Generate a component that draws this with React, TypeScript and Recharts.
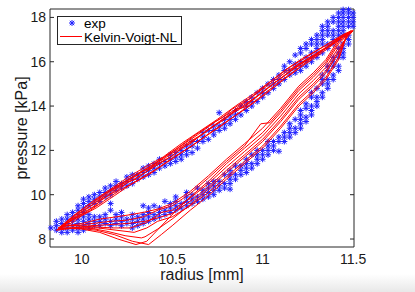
import { ScatterChart, Scatter, XAxis, YAxis, Legend } from "recharts";

const radiusTicks = [10, 10.5, 11, 11.5];
const pressureTicks = [8, 10, 12, 14, 16, 18];
const radiusDomain = [9.825, 11.505];
const pressureDomain = [7.64, 18.38];

// measured points: radius column -> pressures read in that column
const expColumns: [number, number[]][] = [
  [9.83, [8.5]],
  [9.86, [8.4, 8.6, 8.8]],
  [9.89, [8.3, 8.5, 8.7, 8.9]],
  [9.92, [8.3, 8.5, 8.7, 8.9, 9.1]],
  [9.95, [8.4, 8.6, 8.8, 9.0, 9.2]],
  [9.98, [8.3, 8.5, 8.7, 8.9, 9.1, 9.3, 9.5]],
  [10.01, [8.4, 8.6, 8.8, 9.0, 9.2, 9.4, 9.6, 9.8]],
  [10.04, [8.5, 8.7, 8.9, 9.1, 9.5, 9.7, 9.9]],
  [10.07, [8.6, 8.8, 9.0, 9.6, 9.8, 10.0]],
  [10.1, [8.6, 8.8, 9.0, 9.7, 9.9, 10.1]],
  [10.13, [8.7, 8.9, 9.1, 9.9, 10.1, 10.3]],
  [10.16, [8.6, 8.8, 9.3, 9.6, 10.0, 10.2, 10.4]],
  [10.19, [8.7, 8.9, 9.1, 10.2, 10.4, 10.6]],
  [10.22, [8.6, 8.8, 9.0, 9.2, 10.3, 10.5]],
  [10.25, [8.7, 8.9, 10.4, 10.6, 10.8]],
  [10.28, [8.5, 8.7, 8.9, 9.1, 10.5, 10.7, 10.9]],
  [10.31, [8.6, 8.8, 9.0, 10.7, 10.9]],
  [10.34, [8.7, 8.9, 9.1, 9.5, 10.8, 11.0, 11.2]],
  [10.37, [8.8, 9.0, 9.2, 9.4, 10.9, 11.1, 11.3]],
  [10.4, [8.9, 9.1, 9.5, 11.0, 11.2, 11.4]],
  [10.43, [9.0, 9.2, 9.4, 11.2, 11.4, 11.6]],
  [10.46, [9.1, 9.3, 9.7, 11.3, 11.5]],
  [10.49, [9.2, 9.4, 9.6, 11.4, 11.6, 11.8]],
  [10.52, [9.3, 9.5, 9.7, 9.9, 11.5, 11.7, 11.9]],
  [10.55, [9.4, 9.6, 11.6, 11.8, 12.0]],
  [10.58, [9.5, 9.7, 9.9, 10.1, 11.8, 12.0, 12.2]],
  [10.61, [9.6, 9.8, 10.0, 11.9, 12.2, 12.4]],
  [10.64, [9.7, 9.9, 10.3, 12.1, 12.4]],
  [10.67, [9.8, 10.0, 10.2, 12.4, 12.6, 12.8]],
  [10.7, [9.9, 10.1, 10.3, 10.5, 12.5, 12.9]],
  [10.73, [10.0, 10.2, 10.4, 10.6, 12.7, 12.9, 13.1]],
  [10.76, [10.2, 10.4, 10.6, 12.9, 13.1, 13.7]],
  [10.79, [10.3, 10.5, 10.9, 13.0, 13.2, 13.4]],
  [10.82, [10.25, 10.5, 10.7, 10.9, 11.1, 13.2, 13.4, 13.6]],
  [10.85, [10.7, 10.9, 11.3, 13.4, 13.6, 13.8]],
  [10.88, [10.9, 11.1, 11.3, 13.6, 14.0]],
  [10.91, [11.0, 11.2, 11.4, 11.6, 13.8, 14.0, 14.2]],
  [10.94, [11.2, 11.4, 11.8, 14.0, 14.2, 14.4]],
  [10.97, [11.4, 11.6, 11.8, 12.0, 14.2, 14.6]],
  [11.0, [11.6, 11.8, 12.0, 14.4, 14.6, 14.8]],
  [11.03, [11.8, 12.0, 12.2, 12.4, 14.6, 15.0]],
  [11.06, [12.0, 12.2, 12.4, 14.8, 15.0, 15.2]],
  [11.09, [11.96, 12.4, 12.6, 15.0, 15.2, 15.4]],
  [11.12, [12.4, 12.6, 12.8, 15.2, 15.6, 15.8]],
  [11.15, [12.6, 12.8, 13.0, 13.2, 15.4, 15.6, 16.0]],
  [11.18, [12.8, 13.0, 13.4, 15.5, 15.7, 15.9, 16.3]],
  [11.21, [13.0, 13.2, 13.4, 13.6, 13.8, 15.6, 15.8, 16.0, 16.4, 16.6]],
  [11.24, [13.3, 13.5, 13.9, 14.1, 15.8, 16.0, 16.2, 16.6, 16.8]],
  [11.27, [13.6, 13.8, 14.0, 14.4, 14.6, 16.0, 16.2, 16.4, 16.8, 17.0]],
  [11.3, [14.0, 14.2, 14.4, 14.8, 16.2, 16.4, 16.6, 16.8, 17.0, 17.2]],
  [11.33, [14.4, 14.6, 15.0, 15.2, 15.4, 16.4, 16.8, 17.0, 17.2, 17.4, 17.6]],
  [11.36, [14.8, 15.0, 15.2, 15.6, 15.8, 16.6, 16.8, 17.2, 17.4, 17.6, 17.8]],
  [11.39, [15.2, 15.4, 15.8, 16.0, 16.2, 16.8, 17.0, 17.2, 17.4, 17.8, 18.0]],
  [11.42, [15.6, 15.8, 16.2, 16.4, 16.6, 17.0, 17.2, 17.4, 17.6, 17.8, 18.0, 18.2]],
  [11.445, [16.2, 16.4, 16.6, 16.8, 17.2, 17.4, 17.6, 17.8, 18.0, 18.2, 18.35]],
  [11.475, [16.8, 17.0, 17.2, 17.6, 17.8, 18.0, 18.2, 18.35]],
  [11.5, [17.6, 17.8, 18.0, 18.2]],
];

// Kelvin-Voigt-NL model, one hysteresis loop per cycle: [radius, pressure]
const kvLoop1 = [
  [9.87, 8.45], [9.95, 8.85], [10.02, 9.25], [10.08, 9.5], [10.1, 9.75], [10.2, 10.2], [10.26, 10.6],
  [10.3, 10.7], [10.4, 11.3], [10.5, 11.75], [10.55, 12.1], [10.6, 12.3], [10.7, 12.95], [10.8, 13.45],
  [10.85, 13.85], [10.9, 13.95], [11.0, 14.65], [11.1, 15.25], [11.2, 15.9], [11.3, 16.3], [11.4, 16.95],
  [11.48, 17.35],
  [11.42, 16.5], [11.35, 15.6], [11.28, 15.0], [11.2, 14.4], [11.1, 13.4], [11.0, 12.5], [10.9, 11.8],
  [10.8, 11.1], [10.7, 10.35], [10.6, 9.7], [10.5, 9.15], [10.42, 8.95], [10.35, 8.8], [10.25, 8.7],
  [10.15, 8.65], [10.05, 8.6], [9.95, 8.5], [9.87, 8.45],
];
const kvLoop2 = [
  [9.88, 8.5], [9.97, 9.1], [10.05, 9.5], [10.13, 10.05], [10.22, 10.5], [10.33, 11.05], [10.38, 11.2],
  [10.42, 11.5], [10.52, 12.05], [10.62, 12.65], [10.72, 13.2], [10.78, 13.5], [10.83, 13.85], [10.93, 14.35],
  [11.02, 14.95], [11.12, 15.6], [11.22, 16.15], [11.33, 16.65], [11.42, 17.1], [11.49, 17.4],
  [11.42, 16.8], [11.35, 15.9], [11.28, 15.3], [11.2, 14.7], [11.1, 13.7], [11.0, 12.8], [10.9, 12.1],
  [10.8, 11.4], [10.7, 10.6], [10.6, 9.9], [10.5, 9.1], [10.43, 8.5], [10.36, 7.9], [10.3, 7.75],
  [10.2, 8.0], [10.1, 8.3], [10.0, 8.45], [9.88, 8.5],
];
const kvLoop3 = [
  [9.86, 8.4], [9.94, 8.7], [10.0, 9.05], [10.08, 9.4], [10.18, 9.95], [10.27, 10.45], [10.37, 10.9],
  [10.47, 11.45], [10.57, 12.0], [10.67, 12.55], [10.77, 13.1], [10.87, 13.7], [10.97, 14.3], [11.07, 14.95],
  [11.17, 15.55], [11.27, 16.15], [11.37, 16.75], [11.47, 17.3],
  [11.42, 16.2], [11.35, 15.3], [11.28, 14.7], [11.2, 14.1], [11.1, 13.1], [11.0, 12.2], [10.9, 11.5],
  [10.8, 10.8], [10.7, 10.1], [10.6, 9.5], [10.5, 9.0], [10.42, 8.8], [10.36, 8.5], [10.29, 8.3],
  [10.19, 8.4], [10.09, 8.5], [9.97, 8.5], [9.86, 8.4],
];
const kvLoop4 = [
  [9.89, 8.6], [9.98, 9.2], [10.06, 9.7], [10.15, 10.2], [10.25, 10.75], [10.35, 11.25], [10.45, 11.7],
  [10.55, 12.3], [10.65, 12.85], [10.75, 13.4], [10.85, 14.0], [10.95, 14.55], [11.05, 15.15], [11.15, 15.75],
  [11.25, 16.25], [11.35, 16.75], [11.45, 17.25], [11.5, 17.4],
  [11.42, 16.9], [11.35, 16.0], [11.28, 15.4], [11.2, 14.8], [11.1, 13.8], [11.04, 13.25], [10.99, 13.2],
  [10.9, 12.2], [10.8, 11.5], [10.7, 10.75], [10.6, 10.05], [10.5, 9.5], [10.42, 9.3], [10.34, 9.0],
  [10.25, 8.85], [10.16, 8.8], [10.06, 8.7], [9.97, 8.6], [9.89, 8.6],
];
const kvLoop5 = [
  [9.87, 8.5], [9.96, 8.9], [10.04, 9.25], [10.12, 9.7], [10.21, 10.2], [10.31, 10.65], [10.41, 11.15],
  [10.51, 11.7], [10.61, 12.2], [10.71, 12.8], [10.81, 13.35], [10.91, 13.9], [11.01, 14.5], [11.11, 15.15],
  [11.21, 15.75], [11.31, 16.3], [11.41, 16.9], [11.48, 17.35],
  [11.42, 16.4], [11.35, 15.5], [11.28, 14.9], [11.2, 14.3], [11.1, 13.3], [11.0, 12.4], [10.9, 11.7],
  [10.8, 11.0], [10.7, 10.25], [10.6, 9.55], [10.5, 8.9], [10.42, 8.45], [10.35, 8.1], [10.33, 8.05],
  [10.24, 8.15], [10.14, 8.35], [10.04, 8.5], [9.94, 8.5], [9.87, 8.5],
];
const kvLoop6 = [
  [9.88, 8.55], [9.97, 9.15], [10.05, 9.6], [10.14, 10.1], [10.24, 10.6], [10.34, 11.1], [10.44, 11.6],
  [10.54, 12.15], [10.64, 12.7], [10.74, 13.3], [10.84, 13.8], [10.94, 14.4], [11.04, 15.0], [11.14, 15.6],
  [11.24, 16.1], [11.34, 16.6], [11.43, 17.05], [11.49, 17.4],
  [11.42, 17.0], [11.35, 16.1], [11.28, 15.5], [11.2, 14.9], [11.1, 13.9], [11.0, 13.0], [10.9, 12.3],
  [10.8, 11.6], [10.7, 10.85], [10.6, 10.15], [10.5, 9.6], [10.42, 9.35], [10.34, 9.2], [10.27, 9.1],
  [10.19, 9.0], [10.1, 8.9], [10.0, 8.7], [9.88, 8.55],
];
const kvLoop7 = [
  [9.87, 8.45], [9.95, 8.9], [10.03, 9.25], [10.11, 9.75], [10.2, 10.3], [10.29, 10.7], [10.39, 11.2],
  [10.49, 11.7], [10.59, 12.3], [10.69, 12.85], [10.79, 13.45], [10.89, 13.95], [10.99, 14.55], [11.09, 15.2],
  [11.19, 15.8], [11.29, 16.3], [11.39, 16.85], [11.47, 17.3],
  [11.42, 16.1], [11.35, 15.2], [11.28, 14.6], [11.2, 14.0], [11.1, 13.0], [11.0, 12.1], [10.9, 11.4],
  [10.8, 10.7], [10.7, 9.95], [10.6, 9.3], [10.5, 8.6], [10.44, 8.2], [10.37, 7.75], [10.28, 7.9],
  [10.18, 8.2], [10.08, 8.4], [9.97, 8.5], [9.87, 8.45],
];
const kvLoop8 = [
  [9.9, 8.6], [9.99, 9.15], [10.07, 9.6], [10.16, 10.15], [10.26, 10.65], [10.36, 11.15], [10.46, 11.65],
  [10.56, 12.2], [10.66, 12.7], [10.76, 13.3], [10.86, 13.85], [10.96, 14.4], [11.06, 15.0], [11.16, 15.6],
  [11.26, 16.15], [11.36, 16.65], [11.44, 17.1], [11.5, 17.4],
  [11.42, 16.65], [11.35, 15.75], [11.28, 15.15], [11.2, 14.55], [11.1, 13.55], [11.0, 12.65], [10.9, 11.95],
  [10.8, 11.25], [10.7, 10.5], [10.6, 9.85], [10.5, 9.3], [10.44, 9.2], [10.36, 8.75], [10.27, 8.5],
  [10.17, 8.5], [10.07, 8.55], [9.97, 8.6], [9.9, 8.6],
];

const expPoints = expColumns.flatMap(([r, ps]) => ps.map((p) => ({ r, p })));
const kvLoops = [kvLoop1, kvLoop2, kvLoop3, kvLoop4, kvLoop5, kvLoop6, kvLoop7, kvLoop8].map((loop) =>
  loop.map(([r, p]) => ({ r, p }))
);

const FONT = '"Liberation Sans", Arial, Helvetica, sans-serif';
const FRAME = "#262626";
const BLUE = "#1f1fff";
const RED = "#ff0000";

function Asterisk(props: any) {
  const { cx, cy } = props;
  if (cx == null || cy == null) return <g />;
  const s = 3;
  const d = 2.2;
  return (
    <g stroke={BLUE} strokeWidth={1}>
      <line x1={cx - s} y1={cy} x2={cx + s} y2={cy} />
      <line x1={cx} y1={cy - s} x2={cx} y2={cy + s} />
      <line x1={cx - d} y1={cy - d} x2={cx + d} y2={cy + d} />
      <line x1={cx - d} y1={cy + d} x2={cx + d} y2={cy - d} />
    </g>
  );
}

const NoMarker = () => <g />;
const EmptyTick = () => <g />;

function LegendBox() {
  return (
    <svg width={125} height={29} style={{ display: "block" }}>
      <rect x={0.5} y={0.5} width={124} height={28} fill="#fff" stroke={FRAME} />
      <Asterisk cx={15} cy={7} />
      <text x={27} y={11.5} fontSize={13.5} fill="#000" fontFamily={FONT}>
        exp
      </text>
      <line x1={3} y1={20.5} x2={25} y2={20.5} stroke={RED} strokeWidth={1} />
      <text x={27} y={25.5} fontSize={13.5} fill="#000" fontFamily={FONT}>
        Kelvin-Voigt-NL
      </text>
    </svg>
  );
}

export default function App() {
  return (
    <div
      style={{
        position: "absolute",
        left: 0,
        top: 0,
        width: 415,
        height: 292,
        background: "#fff",
        fontFamily: FONT,
        overflow: "hidden",
      }}
    >
      <div
        style={{
          position: "absolute",
          left: 0,
          top: 274,
          width: 415,
          height: 18,
          background: "linear-gradient(#ffffff, #e8e8e8)",
        }}
      />
      <ScatterChart width={415} height={292} margin={{ top: 9, right: 61, bottom: 0, left: 0 }}>
        <XAxis
          xAxisId="main"
          dataKey="r"
          type="number"
          domain={radiusDomain}
          ticks={radiusTicks}
          height={45}
          tickSize={0}
          tickMargin={7}
          axisLine={false}
          tickLine={false}
          tick={{ fontSize: 14, fill: "#1a1a1a" }}
          label={{
            value: "radius [mm]",
            position: "insideBottom",
            offset: 12,
            style: { fontSize: 16, fill: "#1a1a1a" },
          }}
        />
        <XAxis
          xAxisId="frameBottom"
          type="number"
          orientation="bottom"
          mirror
          domain={radiusDomain}
          ticks={radiusTicks}
          allowDataOverflow
          tickSize={4}
          stroke={FRAME}
          tick={EmptyTick}
        />
        <XAxis
          xAxisId="frameTop"
          type="number"
          orientation="top"
          mirror
          domain={radiusDomain}
          ticks={radiusTicks}
          allowDataOverflow
          tickSize={4}
          stroke={FRAME}
          tick={EmptyTick}
        />
        <YAxis
          yAxisId="main"
          dataKey="p"
          type="number"
          domain={pressureDomain}
          ticks={pressureTicks}
          width={50}
          tickSize={0}
          tickMargin={4}
          axisLine={false}
          tickLine={false}
          tick={{ fontSize: 14, fill: "#1a1a1a" }}
          label={{
            value: "pressure [kPa]",
            angle: -90,
            position: "insideLeft",
            offset: 21,
            style: { fontSize: 16, fill: "#1a1a1a", textAnchor: "middle" },
          }}
        />
        <YAxis
          yAxisId="frameLeft"
          type="number"
          orientation="left"
          mirror
          domain={pressureDomain}
          ticks={pressureTicks}
          allowDataOverflow
          tickSize={4}
          stroke={FRAME}
          tick={EmptyTick}
        />
        <YAxis
          yAxisId="frameRight"
          type="number"
          orientation="right"
          mirror
          domain={pressureDomain}
          ticks={pressureTicks}
          allowDataOverflow
          tickSize={4}
          stroke={FRAME}
          tick={EmptyTick}
        />
        <Legend
          layout="vertical"
          align="center"
          verticalAlign="middle"
          wrapperStyle={{ left: 57, top: 16, width: 125, height: 29 }}
          content={() => <LegendBox />}
        />
        <Scatter
          name="exp"
          data={expPoints}
          xAxisId="main"
          yAxisId="main"
          fill={BLUE}
          shape={Asterisk}
          isAnimationActive={false}
        />
        {kvLoops.map((loop, i) => (
          <Scatter
            key={i}
            name="Kelvin-Voigt-NL"
            data={loop}
            xAxisId="main"
            yAxisId="main"
            fill={RED}
            line={{ stroke: RED, strokeWidth: 1 }}
            shape={NoMarker}
            isAnimationActive={false}
          />
        ))}
      </ScatterChart>
    </div>
  );
}
